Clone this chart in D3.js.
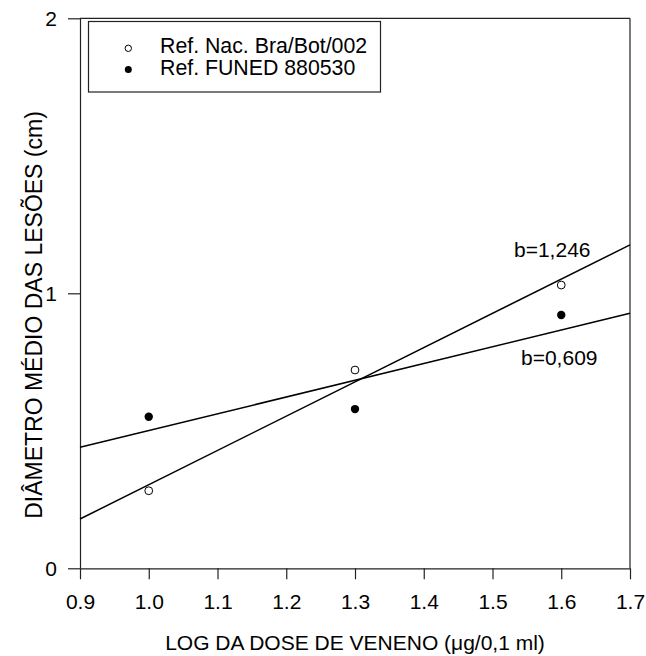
<!DOCTYPE html>
<html>
<head>
<meta charset="utf-8">
<script src="https://cdn.jsdelivr.net/npm/d3@7"></script>
<style>
  html, body { margin: 0; padding: 0; background: #fff; }
  svg { display: block; }
  text { font-family: "Liberation Sans", Arial, Helvetica, sans-serif; fill: #000; }
</style>
</head>
<body>
<svg id="chart" width="646" height="656"></svg>
<script>
// Log dose levels (x) and mean lesion diameters (cm) for each reference venom
const doses = [1.0, 1.3, 1.6];
const refNacional = [0.282, 0.721, 1.030];   // Ref. Nac. Bra/Bot/002 (open circles)
const refFuned = [0.551, 0.579, 0.921];      // Ref. FUNED 880530 (filled circles)

// Slopes of the fitted dose-response lines
const slopeNacional = 1.246;
const slopeFuned = 0.609;

const xTicks = [0.9, 1.0, 1.1, 1.2, 1.3, 1.4, 1.5, 1.6, 1.7];
const yTicks = [0, 1, 2];
const seriesNames = ["Ref. Nac. Bra/Bot/002", "Ref. FUNED 880530"];

const svg = d3.select("#chart");
const plotLeft = 80, plotRight = 630, plotTop = 18.3, plotBottom = 568.3;

const x = d3.scaleLinear().domain([0.9, 1.7]).range([plotLeft, plotRight]);
const y = d3.scaleLinear().domain([0, 2]).range([plotBottom, plotTop]);

// Frame: top and right edges
svg.append("line").attr("x1", plotLeft).attr("x2", plotRight).attr("y1", plotTop).attr("y2", plotTop)
  .attr("stroke", "#222").attr("stroke-width", 1.2);
svg.append("line").attr("x1", plotRight).attr("x2", plotRight).attr("y1", plotTop).attr("y2", plotBottom)
  .attr("stroke", "#222").attr("stroke-width", 1.2);

// Axes
const xAxis = svg.append("g").attr("transform", `translate(0,${plotBottom})`)
  .call(d3.axisBottom(x).tickValues(xTicks).tickFormat(d3.format(".1f"))
    .tickSize(11).tickSizeOuter(0).tickPadding(15));
const yAxis = svg.append("g").attr("transform", `translate(${plotLeft},0)`)
  .call(d3.axisLeft(y).tickValues(yTicks).tickFormat(d3.format("d"))
    .tickSize(12).tickSizeOuter(0).tickPadding(11));

[xAxis, yAxis].forEach(g => {
  g.select(".domain").attr("stroke", "#222").attr("stroke-width", 1.2);
  g.selectAll(".tick line").attr("stroke", "#222").attr("stroke-width", 1.2);
  g.selectAll(".tick text").attr("font-size", 21).attr("fill", "#000")
    .style("font-family", '"Liberation Sans", Arial, sans-serif');
});

// Axis titles
svg.append("text")
  .attr("x", (plotLeft + plotRight) / 2).attr("y", 650)
  .attr("text-anchor", "middle").attr("font-size", 21)
  .text("LOG DA DOSE DE VENENO (\u03BCg/0,1 ml)");

svg.append("text")
  .attr("transform", "translate(42,315) rotate(-90)")
  .attr("text-anchor", "middle").attr("font-size", 23)
  .text("DIÂMETRO MÉDIO DAS LESÕES (cm)");

// Fitted lines pass through the mean point of each series
function fitLine(ys, b) {
  const mx = d3.mean(doses), my = d3.mean(ys);
  const a = my - b * mx;
  return [[0.9, a + b * 0.9], [1.7, a + b * 1.7]];
}
const line = d3.line().x(d => x(d[0])).y(d => y(d[1]));

svg.append("path").attr("d", line(fitLine(refNacional, slopeNacional)))
  .attr("fill", "none").attr("stroke", "#000").attr("stroke-width", 1.5);
svg.append("path").attr("d", line(fitLine(refFuned, slopeFuned)))
  .attr("fill", "none").attr("stroke", "#000").attr("stroke-width", 1.5);

// Data points
svg.append("g").selectAll("circle")
  .data(doses.map((d, i) => [d, refNacional[i]]))
  .join("circle")
  .attr("cx", d => x(d[0])).attr("cy", d => y(d[1])).attr("r", 3.9)
  .attr("fill", "#fff").attr("stroke", "#000").attr("stroke-width", 1);

svg.append("g").selectAll("circle")
  .data(doses.map((d, i) => [d, refFuned[i]]))
  .join("circle")
  .attr("cx", d => x(d[0])).attr("cy", d => y(d[1])).attr("r", 4.2)
  .attr("fill", "#000");

// Slope annotations
svg.append("text").attr("x", 514).attr("y", 256.5).attr("font-size", 21)
  .text("b=" + d3.format(".3f")(slopeNacional).replace(".", ","));
svg.append("text").attr("x", 521).attr("y", 365).attr("font-size", 21)
  .text("b=" + d3.format(".3f")(slopeFuned).replace(".", ","));

// Legend
const legend = svg.append("g");
legend.append("rect").attr("x", 88.5).attr("y", 21.5).attr("width", 292).attr("height", 70.5)
  .attr("fill", "#fff").attr("stroke", "#222").attr("stroke-width", 1.2);
legend.append("circle").attr("cx", 128.3).attr("cy", 48.3).attr("r", 3.2)
  .attr("fill", "#fff").attr("stroke", "#000").attr("stroke-width", 1);
legend.append("circle").attr("cx", 128.3).attr("cy", 69.5).attr("r", 3.5)
  .attr("fill", "#000");
legend.append("text").attr("x", 160).attr("y", 53.3).attr("font-size", 21.3).text(seriesNames[0]);
legend.append("text").attr("x", 160).attr("y", 75).attr("font-size", 21.3).text(seriesNames[1]);
</script>
</body>
</html>
